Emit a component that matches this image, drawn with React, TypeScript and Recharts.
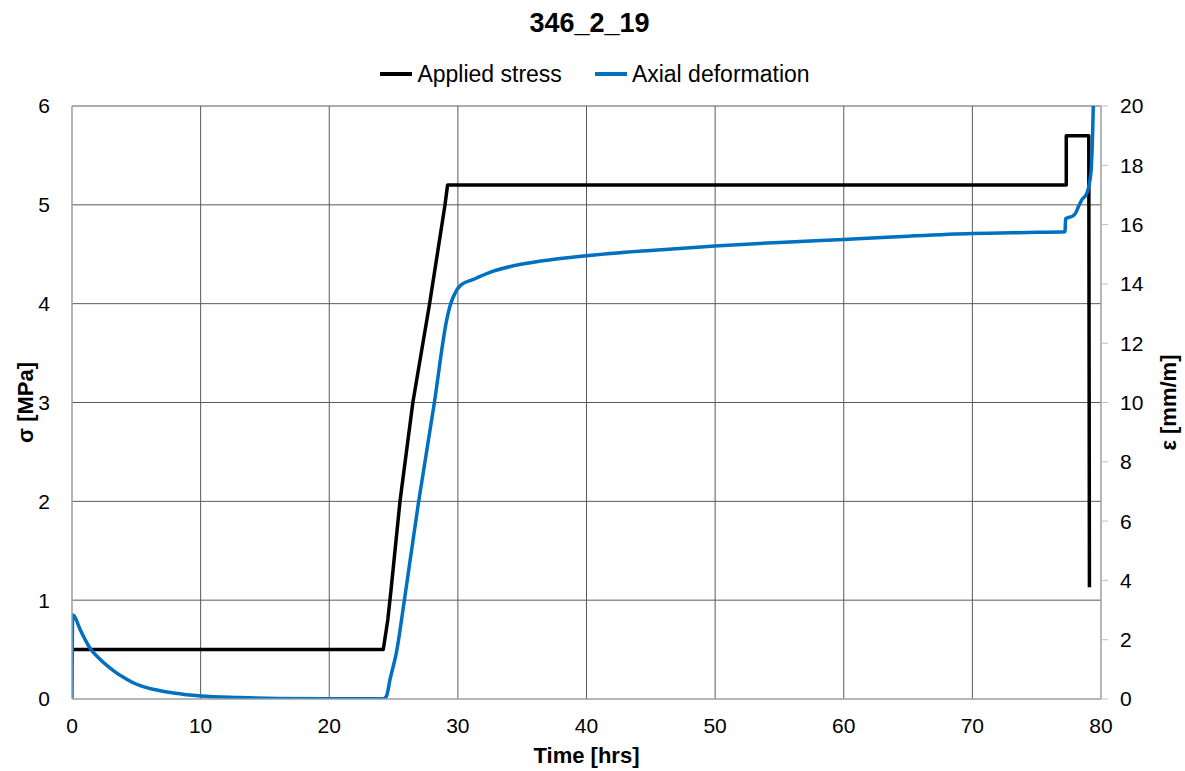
import React from 'react';
import { LineChart, Line, XAxis, YAxis, CartesianGrid, Legend } from 'recharts';

const FONT = '"Liberation Sans", Arial, sans-serif';
const TITLE = '346_2_19';
const X_LABEL = 'Time [hrs]';
const LEFT_LABEL = 'σ [MPa]';
const RIGHT_LABEL = 'ε [mm/m]';

const xTicks = [0, 10, 20, 30, 40, 50, 60, 70, 80];
const leftTicks = [0, 1, 2, 3, 4, 5, 6];
const rightTicks = [0, 2, 4, 6, 8, 10, 12, 14, 16, 18, 20];

// Applied stress (MPa) vs time (hrs)
const stressTime = [0.1, 24.2, 24.55, 24.8, 25.5, 26.5, 27.8, 29.0, 29.2, 77.3, 77.3, 79.05, 79.1];
const stressValues = [0.5, 0.5, 0.8, 1.1, 2.0, 3.0, 4.0, 5.0, 5.2, 5.2, 5.7, 5.7, 1.13];

// Axial deformation (mm/m) vs time (hrs)
const deformTime = [
  0, 0.05, 0.7, 1.0, 1.5, 2.0, 2.8, 3.4, 4, 4.6, 5.3, 6.0, 6.5, 7.9, 10, 13, 16, 20, 24.2,
  24.45, 24.73, 25.25, 25.82, 26.93, 28.15, 29.14, 29.4, 29.7, 30.2, 31.2, 32.7, 35, 37.5,
  40, 45, 50, 55, 60, 65, 70, 75, 77.2,
  77.25, 77.85, 78.1, 78.24, 78.5, 78.9, 79.14, 79.25, 79.35, 79.4,
];
const deformValues = [
  0, 2.83, 2.28, 2.02, 1.65, 1.42, 1.1, 0.9, 0.73, 0.58, 0.45, 0.36, 0.31, 0.2, 0.1, 0.05, 0.02, 0.01, 0.01,
  0.1, 0.67, 1.63, 3.27, 6.6, 9.93, 12.8, 13.27, 13.62, 13.95, 14.15, 14.42, 14.67, 14.83,
  14.95, 15.13, 15.28, 15.4, 15.5, 15.61, 15.7, 15.74, 15.76,
  16.2, 16.3, 16.45, 16.6, 16.83, 17.06, 17.5, 17.95, 19.1, 20,
];

const stressData = stressTime.map((t, i) => ({ t, stress: stressValues[i] }));
const deformData = deformTime.map((t, i) => ({ t, deform: deformValues[i] }));

const LegendContent = (props: any) => {
  const payload = props.payload || [];
  return (
    <div style={{ display: 'flex', justifyContent: 'center', alignItems: 'center', fontFamily: FONT, fontSize: 23, color: '#000' }}>
      {payload.map((p: any, i: number) => (
        <div key={i} style={{ display: 'flex', alignItems: 'center', marginRight: i === 0 ? 33 : 0 }}>
          <div style={{ width: 32, height: 4, background: p.color, marginRight: 5 }} />
          <span style={{ lineHeight: '24px' }}>{p.value}</span>
        </div>
      ))}
    </div>
  );
};

const LeftLabel = (props: any) => {
  const vb = props.viewBox || {};
  const cx = vb.x - 7;
  const cy = vb.y + vb.height / 2;
  return (
    <text x={cx} y={cy} transform={`rotate(-90, ${cx}, ${cy})`} textAnchor="middle" dominantBaseline="central"
      fontFamily={FONT} fontSize={22} fontWeight="bold" fill="#000">{LEFT_LABEL}</text>
  );
};

const RightLabel = (props: any) => {
  const vb = props.viewBox || {};
  const cx = vb.x + vb.width + 17;
  const cy = vb.y + vb.height / 2;
  return (
    <text x={cx} y={cy} transform={`rotate(-90, ${cx}, ${cy})`} textAnchor="middle" dominantBaseline="central"
      fontFamily={FONT} fontSize={22} fontWeight="bold" fill="#000">{RIGHT_LABEL}</text>
  );
};

const BottomLabel = (props: any) => {
  const vb = props.viewBox || {};
  const cx = vb.x + vb.width / 2;
  return (
    <text x={cx} y={vb.y + 64} textAnchor="middle" fontFamily={FONT} fontSize={22} fontWeight="bold" fill="#000">{X_LABEL}</text>
  );
};

const tickStyle = { fontFamily: FONT, fontSize: 21, fill: '#000' };

export default function App() {
  return (
    <div style={{ position: 'absolute', left: 0, top: 0, width: 1185, height: 771, background: '#fff' }}>
      <div style={{ position: 'absolute', left: 0, top: 10, width: 1179, textAlign: 'center', fontFamily: FONT, fontWeight: 'bold', fontSize: 27, lineHeight: '27px', color: '#000' }}>
        {TITLE}
      </div>
      <LineChart width={1185} height={771} margin={{ top: 106, right: 34, bottom: 42, left: 32 }}>
        <CartesianGrid yAxisId="left" stroke="#5a5a5a" strokeWidth={1} />
        <XAxis
          type="number"
          dataKey="t"
          domain={[0, 80]}
          ticks={xTicks}
          allowDataOverflow
          axisLine={{ stroke: '#bfbfbf' }}
          tickLine={false}
          tickSize={0}
          tickMargin={19}
          tick={tickStyle}
          height={30}
          label={<BottomLabel />}
        />
        <YAxis
          yAxisId="left"
          domain={[0, 6]}
          ticks={leftTicks}
          allowDataOverflow
          axisLine={{ stroke: '#bfbfbf' }}
          tickLine={false}
          tickSize={0}
          tickMargin={22}
          tick={tickStyle}
          width={40}
          label={<LeftLabel />}
        />
        <YAxis
          yAxisId="right"
          orientation="right"
          domain={[0, 20]}
          ticks={rightTicks}
          allowDataOverflow
          axisLine={{ stroke: '#bfbfbf' }}
          tickLine={{ stroke: '#bfbfbf' }}
          tickSize={7}
          tickMargin={12}
          tick={tickStyle}
          width={50}
          label={<RightLabel />}
        />
        <Legend
          layout="horizontal"
          verticalAlign="middle"
          align="center"
          wrapperStyle={{ top: 62, left: 0, width: 1190 }}
          content={<LegendContent />}
        />
        <Line
          yAxisId="left"
          data={stressData}
          dataKey="stress"
          name="Applied stress"
          stroke="#000000"
          strokeWidth={3.5}
          strokeLinejoin="round"
          dot={false}
          activeDot={false}
          type="linear"
          isAnimationActive={false}
        />
        <Line
          yAxisId="right"
          data={deformData}
          dataKey="deform"
          name="Axial deformation"
          stroke="#0070c0"
          strokeWidth={3.5}
          strokeLinejoin="round"
          dot={false}
          activeDot={false}
          type="monotoneX"
          isAnimationActive={false}
        />
      </LineChart>
    </div>
  );
}
